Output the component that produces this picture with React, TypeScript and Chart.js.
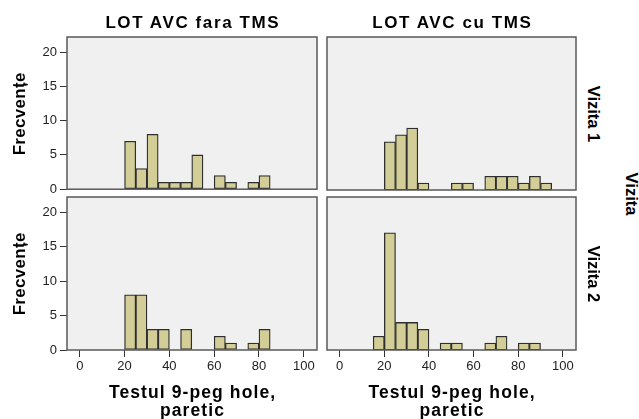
import React, { useEffect, useRef } from "react";
import { Chart, registerables } from "chart.js";

Chart.register(...registerables);

// ---- data ----
const binStarts = [15, 20, 25, 30, 35, 40, 45, 50, 55, 60, 65, 70, 75, 80, 85, 90];
const binWidth = 5;
const countsFaraV1 = [0, 7, 3, 8, 1, 1, 1, 5, 0, 2, 1, 0, 1, 2, 0, 0];
const countsCuV1 = [0, 7, 8, 9, 1, 0, 0, 1, 1, 0, 2, 2, 2, 1, 2, 1];
const countsFaraV2 = [0, 8, 8, 3, 3, 0, 3, 0, 0, 2, 1, 0, 1, 3, 0, 0];
const countsCuV2 = [2, 17, 4, 4, 3, 0, 1, 1, 0, 0, 1, 2, 0, 1, 1, 0];
const xTicks = [0, 20, 40, 60, 80, 100];
const yTicks = [0, 5, 10, 15, 20];
const colTitles = ["LOT AVC fara TMS", "LOT AVC cu TMS"];
const rowTitles = ["Vizita 1", "Vizita 2"];
const rowGroupTitle = "Vizita";
const yTitle = "Frecvențe";
const xTitleLines = ["Testul 9-peg hole,", "paretic"];

const X_MIN = -5.7;
const X_MAX = 105.9;
const Y_MAX = 22.2;

const FONT = '"Liberation Sans", Arial, Helvetica, sans-serif';

const framePlugin = {
  id: "panelFrame",
  beforeDraw(chart: any) {
    const { ctx, chartArea: a } = chart;
    ctx.save();
    ctx.fillStyle = "#F0F0F0";
    ctx.fillRect(a.left, a.top, a.right - a.left, a.bottom - a.top);
    ctx.restore();
  },
  afterDatasetsDraw(chart: any) {
    const { ctx, chartArea: a } = chart;
    ctx.save();
    ctx.strokeStyle = "#5a5a5a";
    ctx.lineWidth = 1.5;
    ctx.strokeRect(a.left, a.top, a.right - a.left, a.bottom - a.top);
    ctx.restore();
  },
};

type Pad = { top: number; right: number; bottom: number; left: number };

function Panel(props: {
  counts: number[];
  showY: boolean;
  showX: boolean;
  left: number;
  top: number;
  width: number;
  height: number;
  padding: Pad;
}) {
  const ref = useRef<HTMLCanvasElement>(null);
  const { counts, showY, showX, left, top, width, height, padding } = props;

  useEffect(() => {
    const data = binStarts
      .map((s, i) => ({ x: s + binWidth / 2, y: counts[i] }))
      .filter((d) => d.y > 0);
    const tickFont = { family: FONT, size: 13 };
    const chart = new Chart(ref.current as HTMLCanvasElement, {
      type: "bar",
      data: {
        datasets: [
          {
            data: data as any,
            backgroundColor: "#D3CE97",
            borderColor: "#2e2e2e",
            borderWidth: 1.3,
            borderSkipped: false,
            barPercentage: 1,
            categoryPercentage: 1,
          },
        ],
      },
      options: {
        responsive: false,
        maintainAspectRatio: false,
        animation: false,
        layout: { padding },
        plugins: {
          legend: { display: false },
          tooltip: { enabled: false },
        },
        scales: {
          x: {
            type: "linear",
            min: X_MIN,
            max: X_MAX,
            offset: false,
            display: showX,
            afterBuildTicks: (s: any) => {
              s.ticks = xTicks.map((v) => ({ value: v }));
            },
            afterFit: (s: any) => {
              s.height = showX ? 30 : 0;
            },
            grid: {
              offset: false,
              drawOnChartArea: false,
              drawTicks: true,
              tickLength: 7,
              tickColor: "#333",
              tickWidth: 1,
            },
            border: { display: false },
            ticks: {
              font: tickFont,
              color: "#222",
              padding: 2,
              maxRotation: 0,
              autoSkip: false,
            },
          },
          y: {
            type: "linear",
            min: 0,
            max: Y_MAX,
            display: showY,
            afterBuildTicks: (s: any) => {
              s.ticks = yTicks.map((v) => ({ value: v }));
            },
            afterFit: (s: any) => {
              s.width = showY ? 67 : 0;
            },
            grid: {
              drawOnChartArea: false,
              drawTicks: true,
              tickLength: 7,
              tickColor: "#333",
              tickWidth: 1,
            },
            border: { display: false },
            ticks: {
              font: tickFont,
              color: "#222",
              padding: 3,
              autoSkip: false,
            },
          },
        } as any,
      },
      plugins: [framePlugin],
    });
    return () => chart.destroy();
  }, []);

  return (
    <canvas
      ref={ref}
      width={width}
      height={height}
      style={{ position: "absolute", left, top, width, height, display: "block" }}
    />
  );
}

function Label(props: {
  text: string;
  x: number;
  y: number;
  rotate?: number;
  size?: number;
  spacing?: number;
}) {
  const { text, x, y, rotate = 0, size = 17, spacing = 0 } = props;
  return (
    <div
      style={{
        position: "absolute",
        left: x,
        top: y,
        transform: `translate(-50%, -50%) rotate(${rotate}deg)`,
        fontSize: size,
        lineHeight: `${size}px`,
        fontWeight: "bold",
        letterSpacing: spacing,
        paddingLeft: spacing,
        whiteSpace: "nowrap",
        color: "#000",
        fontFamily: FONT,
      }}
    >
      {text}
    </div>
  );
}

export default function App() {
  const colCenters = [192, 451.5];
  const rowCenters = [113.5, 273.5];
  return (
    <div
      style={{
        position: "absolute",
        left: 0,
        top: 0,
        width: 639,
        height: 419,
        background: "#fff",
        overflow: "hidden",
        fontFamily: FONT,
      }}
    >
      <Panel counts={countsFaraV1} showY={true} showX={false} left={0} top={25} width={320} height={175}
        padding={{ top: 12, right: 3, bottom: 10, left: 0 }} />
      <Panel counts={countsCuV1} showY={false} showX={false} left={320} top={25} width={259} height={175}
        padding={{ top: 12, right: 3, bottom: 10, left: 7 }} />
      <Panel counts={countsFaraV2} showY={true} showX={true} left={0} top={185} width={320} height={195}
        padding={{ top: 12, right: 3, bottom: 0, left: 0 }} />
      <Panel counts={countsCuV2} showY={false} showX={true} left={320} top={185} width={259} height={195}
        padding={{ top: 12, right: 3, bottom: 0, left: 7 }} />

      {colTitles.map((t, i) => (
        <Label key={t} text={t} x={colCenters[i]} y={22.4} size={17} spacing={1.6} />
      ))}
      {colCenters.map((cx, i) => (
        <React.Fragment key={"xt" + i}>
          <Label text={xTitleLines[0]} x={cx} y={393} size={17.5} spacing={1.1} />
          <Label text={xTitleLines[1]} x={cx} y={411.4} size={17.5} spacing={1.1} />
        </React.Fragment>
      ))}
      {rowCenters.map((cy, i) => (
        <Label key={"yt" + i} text={yTitle} x={19} y={cy} rotate={-90} size={17} spacing={0.3} />
      ))}
      {rowTitles.map((t, i) => (
        <Label key={t} text={t} x={594} y={rowCenters[i]} rotate={90} size={16.5} />
      ))}
      <Label text={rowGroupTitle} x={632} y={193.5} rotate={90} size={16.5} />
    </div>
  );
}
